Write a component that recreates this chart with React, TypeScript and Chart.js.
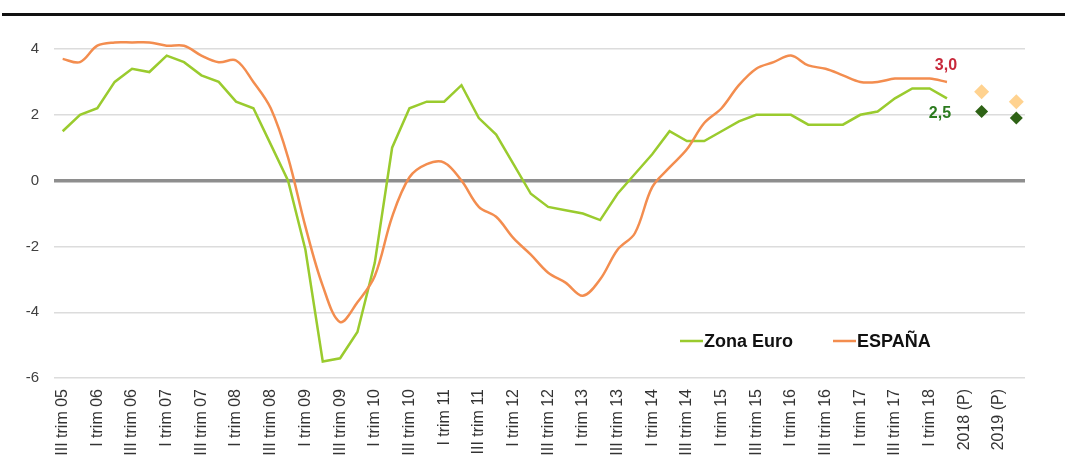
import React, { useEffect, useRef } from 'react';
import { Chart, registerables } from 'chart.js';

Chart.register(...registerables);

// Quarterly categories (tick labels shown on every second one)
const categories = [
  'III trim 05', 'IV trim 05',
  'I trim 06', 'II trim 06', 'III trim 06', 'IV trim 06',
  'I trim 07', 'II trim 07', 'III trim 07', 'IV trim 07',
  'I trim 08', 'II trim 08', 'III trim 08', 'IV trim 08',
  'I trim 09', 'II trim 09', 'III trim 09', 'IV trim 09',
  'I trim 10', 'II trim 10', 'III trim 10', 'IV trim 10',
  'I trim 11', 'II trim 11', 'III trim 11', 'IV trim 11',
  'I trim 12', 'II trim 12', 'III trim 12', 'IV trim 12',
  'I trim 13', 'II trim 13', 'III trim 13', 'IV trim 13',
  'I trim 14', 'II trim 14', 'III trim 14', 'IV trim 14',
  'I trim 15', 'II trim 15', 'III trim 15', 'IV trim 15',
  'I trim 16', 'II trim 16', 'III trim 16', 'IV trim 16',
  'I trim 17', 'II trim 17', 'III trim 17', 'IV trim 17',
  'I trim 18', 'II trim 18',
  '2018 (P)', '2018', '2019 (P)', '2019',
];

const zonaEuro = [
  1.5, 2.0, 2.2, 3.0, 3.4, 3.3, 3.8, 3.6, 3.2, 3.0,
  2.4, 2.2, 1.1, 0.0, -2.1, -5.5, -5.4, -4.6, -2.5, 1.0,
  2.2, 2.4, 2.4, 2.9, 1.9, 1.4, 0.5, -0.4, -0.8, -0.9,
  -1.0, -1.2, -0.4, 0.2, 0.8, 1.5, 1.2, 1.2, 1.5, 1.8,
  2.0, 2.0, 2.0, 1.7, 1.7, 1.7, 2.0, 2.1, 2.5, 2.8,
  2.8, 2.5,
];

const espana = [
  3.7, 3.6, 4.1, 4.2, 4.2, 4.2, 4.1, 4.1, 3.8, 3.6,
  3.65, 3.0, 2.2, 0.7, -1.4, -3.2, -4.3, -3.7, -2.9, -1.1,
  0.1, 0.5, 0.55, 0.0, -0.8, -1.1, -1.75, -2.25, -2.8, -3.1,
  -3.5, -3.0, -2.1, -1.6, -0.2, 0.4, 0.95, 1.75, 2.2, 2.9,
  3.4, 3.6, 3.8, 3.5, 3.4, 3.2, 3.0, 3.0, 3.1, 3.1,
  3.1, 3.0,
];

const forecastCategories = ['2018', '2019'];
const espanaForecast = [2.7, 2.4];
const zonaEuroForecast = [2.1, 1.9];

const yMin = -6;
const yMax = 4;
const yStep = 2;

const seriesNames = ['Zona Euro', 'ESPAÑA'];

const GREEN = '#9ACB2E';
const ORANGE = '#F38D4F';
const LIGHT_ORANGE = '#FFD28F';
const DARK_GREEN = '#2E6215';
const LABEL_RED = '#C8283A';
const LABEL_GREEN = '#2B7A1E';
const FONT = "'Liberation Sans', Arial, sans-serif";

const fmt = (v: number) => v.toFixed(1).replace('.', ',');

const overlayPlugin = {
  id: 'overlay',
  afterDatasetsDraw(chart: any) {
    const ctx = chart.ctx;
    ctx.save();
    // end-of-series value labels
    const metaE = chart.getDatasetMeta(0);
    const metaZ = chart.getDatasetMeta(1);
    const pe = metaE.data[espana.length - 1];
    const pz = metaZ.data[zonaEuro.length - 1];
    ctx.font = `bold 16px ${FONT}`;
    ctx.textAlign = 'center';
    ctx.textBaseline = 'middle';
    if (pe) {
      ctx.fillStyle = LABEL_RED;
      ctx.fillText(fmt(espana[espana.length - 1]), pe.x - 1, pe.y - 16);
    }
    if (pz) {
      ctx.fillStyle = LABEL_GREEN;
      ctx.fillText(fmt(zonaEuro[zonaEuro.length - 1]), pz.x - 7, pz.y + 15);
    }

    // legend inside plot area
    const ca = chart.chartArea;
    const ly = ca.bottom - 37;
    const items = [
      { name: seriesNames[0], color: GREEN, x: ca.right - 345 },
      { name: seriesNames[1], color: ORANGE, x: ca.right - 192 },
    ];
    ctx.font = `bold 18px ${FONT}`;
    ctx.textAlign = 'left';
    ctx.textBaseline = 'middle';
    items.forEach((it) => {
      ctx.strokeStyle = it.color;
      ctx.lineWidth = 2.5;
      ctx.beginPath();
      ctx.moveTo(it.x, ly);
      ctx.lineTo(it.x + 23, ly);
      ctx.stroke();
      ctx.fillStyle = '#111111';
      ctx.fillText(it.name, it.x + 24, ly + 1);
    });
    ctx.restore();
  },
};

export default function App() {
  const canvasRef = useRef<HTMLCanvasElement | null>(null);

  useEffect(() => {
    const canvas = canvasRef.current;
    if (!canvas) return;

    const chart = new Chart(canvas, {
      type: 'line',
      data: {
        labels: categories,
        datasets: [
          {
            label: seriesNames[1],
            data: espana,
            borderColor: ORANGE,
            backgroundColor: ORANGE,
            borderWidth: 2.5,
            pointRadius: 0,
            tension: 0.35,
            fill: false,
            clip: false,
            order: 0,
          },
          {
            label: seriesNames[0],
            data: zonaEuro,
            borderColor: GREEN,
            backgroundColor: GREEN,
            borderWidth: 2.5,
            pointRadius: 0,
            tension: 0,
            fill: false,
            clip: false,
            order: 1,
          },
          {
            label: seriesNames[1] + ' (P)',
            data: forecastCategories.map((c, i) => ({ x: c, y: espanaForecast[i] })),
            showLine: false,
            pointStyle: 'rectRot',
            pointRadius: 7.5,
            pointBackgroundColor: LIGHT_ORANGE,
            pointBorderColor: LIGHT_ORANGE,
            pointBorderWidth: 0,
            clip: false,
            order: 2,
          },
          {
            label: seriesNames[0] + ' (P)',
            data: forecastCategories.map((c, i) => ({ x: c, y: zonaEuroForecast[i] })),
            showLine: false,
            pointStyle: 'rectRot',
            pointRadius: 6.5,
            pointBackgroundColor: DARK_GREEN,
            pointBorderColor: DARK_GREEN,
            pointBorderWidth: 0,
            clip: false,
            order: 2,
          },
        ] as any,
      },
      options: {
        animation: false,
        responsive: false,
        maintainAspectRatio: false,
        layout: { padding: { top: 49, right: 40, left: 0, bottom: 0 } },
        plugins: {
          legend: { display: false },
          tooltip: { enabled: false },
          title: { display: false },
        },
        events: [],
        scales: {
          x: {
            type: 'category',
            offset: true,
            grid: { display: false, drawTicks: false },
            border: { display: false },
            afterFit: (scale: any) => {
              scale.height = 91;
            },
            ticks: {
              autoSkip: false,
              maxRotation: 90,
              minRotation: 90,
              padding: 11,
              color: '#333333',
              font: { family: FONT, size: 16 },
              callback: function (this: any, value: any, index: number) {
                return index % 2 === 0 ? categories[index] : '';
              },
            },
          },
          y: {
            min: yMin,
            max: yMax,
            afterFit: (scale: any) => {
              scale.width = 54;
            },
            border: { display: false },
            grid: {
              drawTicks: false,
              color: (c: any) => (c.tick && c.tick.value === 0 ? '#8E8E8E' : '#DCDCDC'),
              lineWidth: (c: any) => (c.tick && c.tick.value === 0 ? 3.5 : 1.4),
            },
            ticks: {
              stepSize: yStep,
              padding: 15,
              color: '#404040',
              font: { family: FONT, size: 15 },
              callback: (v: any) => String(v),
            },
          },
        },
      } as any,
      plugins: [overlayPlugin],
    });

    return () => chart.destroy();
  }, []);

  return (
    <div
      style={{
        position: 'absolute',
        left: 0,
        top: 0,
        width: 1065,
        height: 469,
        background: '#ffffff',
        overflow: 'hidden',
      }}
    >
      <div
        style={{
          position: 'absolute',
          left: 2,
          top: 13,
          width: 1063,
          height: 3,
          background: '#111111',
        }}
      />
      <canvas
        ref={canvasRef}
        width={1065}
        height={469}
        style={{ position: 'absolute', left: 0, top: 0, display: 'block' }}
      />
    </div>
  );
}
